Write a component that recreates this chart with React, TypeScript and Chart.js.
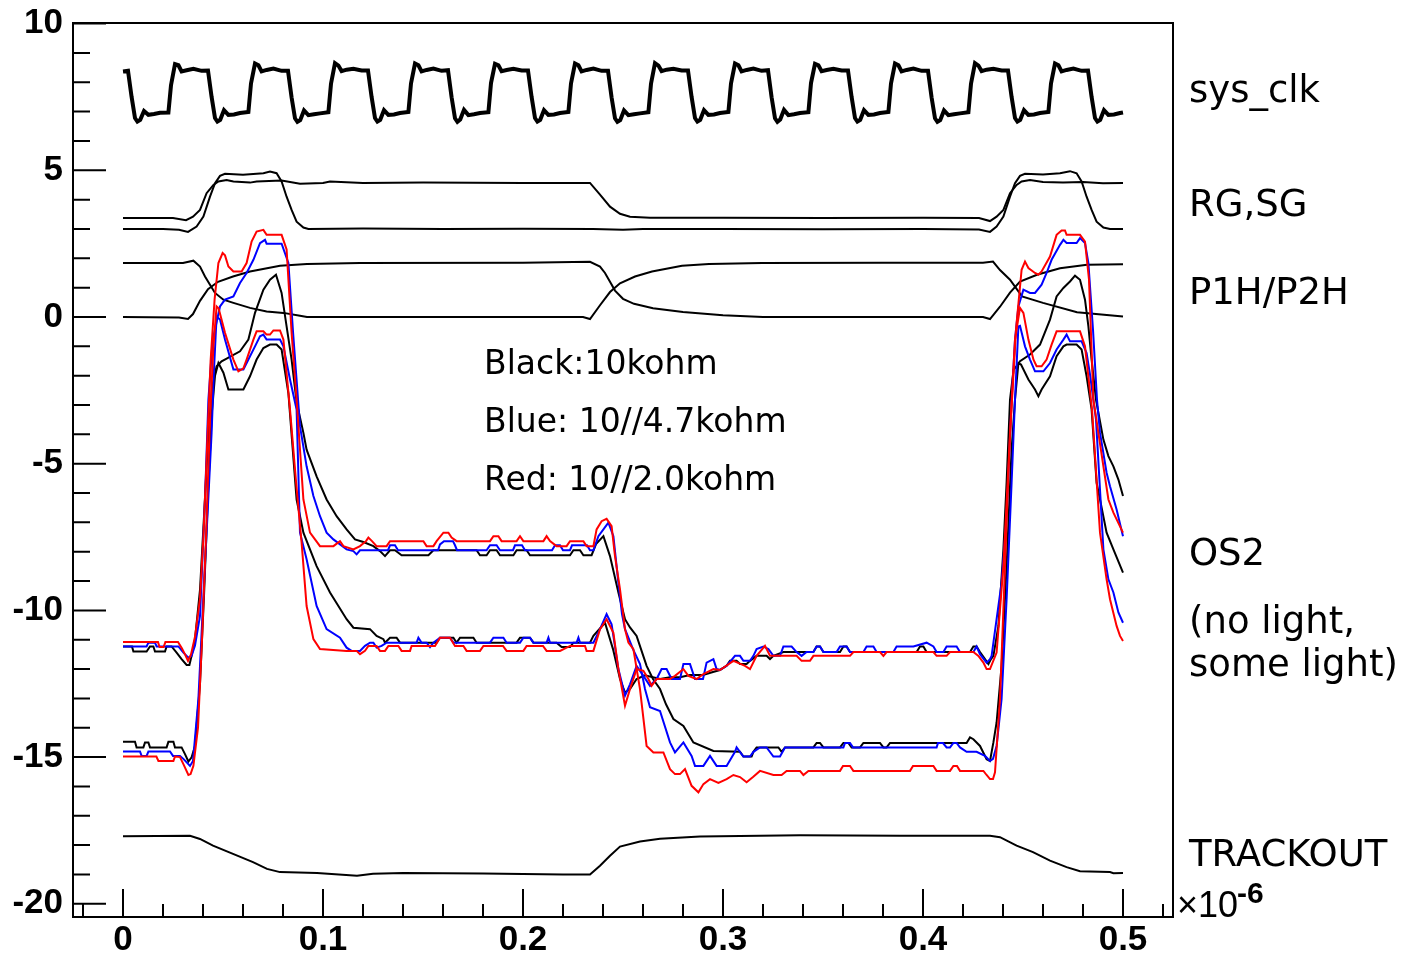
import React, { useEffect, useRef } from "react";
import { Chart, registerables } from "chart.js";

Chart.register(...registerables);

type P = [number, number];

// ---------- axis ticks ----------
const xTickValues = [0, 0.1, 0.2, 0.3, 0.4, 0.5];
const yTickValues = [-20, -15, -10, -5, 0, 5, 10];
const xMinorTicks = [-0.02, 0.02, 0.04, 0.06, 0.08, 0.12, 0.14, 0.16, 0.18, 0.22, 0.24, 0.26, 0.28, 0.32, 0.34, 0.36, 0.38, 0.42, 0.44, 0.46, 0.48, 0.52];
const yMinorTicks = [-19, -18, -17, -16, -14, -13, -12, -11, -9, -8, -7, -6, -4, -3, -2, -1, 1, 2, 3, 4, 6, 7, 8, 9];

// ---------- labels ----------
const signalLabels = ["sys_clk", "RG,SG", "P1H/P2H", "OS2", "(no light,", "some light)", "TRACKOUT"];
const noteLabels = ["Black:10kohm", "Blue: 10//4.7kohm", "Red: 10//2.0kohm"];

// ---------- series (time in 1e-6 s, volts) ----------
const sysClk: P[] = [
  [0, 8.37], [0.0025, 8.39], [0.0043, 7.5], [0.006, 6.78], [0.0072, 6.66], [0.0086, 6.72], [0.0105, 7.02], [0.0127, 6.89], [0.0155, 6.92], [0.0185, 6.96], [0.0227, 6.97], [0.024, 7.9], [0.026, 8.62], [0.0277, 8.58], [0.0293, 8.37], [0.0318, 8.41], [0.0352, 8.46], [0.0393, 8.39],
  [0.0425, 8.40], [0.0443, 7.50], [0.0460, 6.78], [0.0472, 6.66], [0.0486, 6.72], [0.0505, 7.05], [0.0527, 6.89], [0.0555, 6.90], [0.0585, 6.95], [0.0627, 6.99], [0.0640, 7.96], [0.0660, 8.64], [0.0677, 8.58], [0.0693, 8.37], [0.0718, 8.42], [0.0752, 8.47], [0.0793, 8.39],
  [0.0825, 8.39], [0.0843, 7.48], [0.0860, 6.77], [0.0872, 6.65], [0.0886, 6.71], [0.0905, 7.04], [0.0927, 6.88], [0.0955, 6.91], [0.0985, 6.94], [0.1027, 6.98], [0.1040, 7.95], [0.1060, 8.65], [0.1077, 8.57], [0.1093, 8.38], [0.1118, 8.43], [0.1152, 8.46], [0.1193, 8.40],
  [0.1225, 8.40], [0.1243, 7.50], [0.1260, 6.78], [0.1272, 6.66], [0.1286, 6.72], [0.1305, 7.05], [0.1327, 6.89], [0.1355, 6.90], [0.1385, 6.95], [0.1427, 6.99], [0.1440, 7.96], [0.1460, 8.64], [0.1477, 8.58], [0.1493, 8.37], [0.1518, 8.42], [0.1552, 8.47], [0.1593, 8.39],
  [0.1625, 8.41], [0.1643, 7.49], [0.1660, 6.77], [0.1672, 6.65], [0.1686, 6.73], [0.1705, 7.06], [0.1727, 6.88], [0.1755, 6.91], [0.1785, 6.95], [0.1827, 6.98], [0.1840, 7.97], [0.1860, 8.63], [0.1877, 8.58], [0.1893, 8.38], [0.1918, 8.42], [0.1952, 8.46], [0.1993, 8.40],
  [0.2025, 8.40], [0.2043, 7.50], [0.2060, 6.78], [0.2072, 6.66], [0.2086, 6.72], [0.2105, 7.05], [0.2127, 6.89], [0.2155, 6.90], [0.2185, 6.95], [0.2227, 6.99], [0.2240, 7.96], [0.2260, 8.64], [0.2277, 8.58], [0.2293, 8.37], [0.2318, 8.42], [0.2352, 8.47], [0.2393, 8.39],
  [0.2425, 8.39], [0.2443, 7.48], [0.2460, 6.77], [0.2472, 6.65], [0.2486, 6.71], [0.2505, 7.04], [0.2527, 6.88], [0.2555, 6.91], [0.2585, 6.94], [0.2627, 6.98], [0.2640, 7.95], [0.2660, 8.65], [0.2677, 8.57], [0.2693, 8.38], [0.2718, 8.43], [0.2752, 8.46], [0.2793, 8.40],
  [0.2825, 8.40], [0.2843, 7.50], [0.2860, 6.78], [0.2872, 6.66], [0.2886, 6.72], [0.2905, 7.05], [0.2927, 6.89], [0.2955, 6.90], [0.2985, 6.95], [0.3027, 6.99], [0.3040, 7.96], [0.3060, 8.64], [0.3077, 8.58], [0.3093, 8.37], [0.3118, 8.42], [0.3152, 8.47], [0.3193, 8.39],
  [0.3225, 8.41], [0.3243, 7.49], [0.3260, 6.77], [0.3272, 6.65], [0.3286, 6.73], [0.3305, 7.06], [0.3327, 6.88], [0.3355, 6.91], [0.3385, 6.95], [0.3427, 6.98], [0.3440, 7.97], [0.3460, 8.63], [0.3477, 8.58], [0.3493, 8.38], [0.3518, 8.42], [0.3552, 8.46], [0.3593, 8.40],
  [0.3625, 8.40], [0.3643, 7.50], [0.3660, 6.78], [0.3672, 6.66], [0.3686, 6.72], [0.3705, 7.05], [0.3727, 6.89], [0.3755, 6.90], [0.3785, 6.95], [0.3827, 6.99], [0.3840, 7.96], [0.3860, 8.64], [0.3877, 8.58], [0.3893, 8.37], [0.3918, 8.42], [0.3952, 8.47], [0.3993, 8.39],
  [0.4025, 8.39], [0.4043, 7.48], [0.4060, 6.77], [0.4072, 6.65], [0.4086, 6.71], [0.4105, 7.04], [0.4127, 6.88], [0.4155, 6.91], [0.4185, 6.94], [0.4227, 6.98], [0.4240, 7.95], [0.4260, 8.65], [0.4277, 8.57], [0.4293, 8.38], [0.4318, 8.43], [0.4352, 8.46], [0.4393, 8.40],
  [0.4425, 8.40], [0.4443, 7.50], [0.4460, 6.78], [0.4472, 6.66], [0.4486, 6.72], [0.4505, 7.05], [0.4527, 6.89], [0.4555, 6.90], [0.4585, 6.95], [0.4627, 6.99], [0.4640, 7.96], [0.4660, 8.64], [0.4677, 8.58], [0.4693, 8.37], [0.4718, 8.42], [0.4752, 8.47], [0.4793, 8.39],
  [0.4825, 8.40], [0.4843, 7.50], [0.4860, 6.78], [0.4872, 6.66], [0.4886, 6.72], [0.4905, 7.05], [0.4927, 6.89], [0.4955, 6.90], [0.4985, 6.95], [0.5, 6.97],
];

const rg: P[] = [
  [0, 3.0], [0.02, 3.0], [0.028, 2.97], [0.0325, 2.9], [0.0368, 3.08], [0.0402, 3.42], [0.0435, 4.1], [0.046, 4.56], [0.0485, 4.81], [0.051, 4.88], [0.06, 4.85], [0.0702, 4.9], [0.0735, 4.96], [0.0768, 4.9], [0.0793, 4.62], [0.0818, 4.1], [0.0843, 3.65], [0.0868, 3.25], [0.0902, 3.05], [0.0927, 3.0],
  [0.12, 3.02], [0.16, 3.0], [0.2, 3.01], [0.235, 3.0], [0.25, 2.97], [0.26, 3.0], [0.3, 3.0], [0.35, 2.99], [0.4, 3.0], [0.428, 2.98],
  [0.4335, 2.9], [0.4368, 3.08], [0.4402, 3.42], [0.4435, 4.1], [0.446, 4.56], [0.4485, 4.81], [0.451, 4.88], [0.46, 4.86], [0.4685, 4.9], [0.4735, 4.97], [0.4768, 4.9], [0.4793, 4.62], [0.4818, 4.1], [0.4843, 3.65], [0.4868, 3.25], [0.4902, 3.05], [0.4935, 3.0], [0.5, 3.0],
];

const sg: P[] = [
  [0, 3.37], [0.025, 3.37], [0.0315, 3.3], [0.035, 3.42], [0.0385, 3.65], [0.0418, 4.22], [0.0452, 4.5], [0.0477, 4.62], [0.0518, 4.67], [0.0552, 4.62], [0.0635, 4.58], [0.0668, 4.62], [0.0793, 4.65], [0.0885, 4.54], [0.1, 4.57], [0.1035, 4.62], [0.12, 4.57], [0.15, 4.58], [0.2, 4.57],
  [0.2335, 4.57], [0.2385, 4.17], [0.2435, 3.76], [0.2485, 3.52], [0.2535, 3.42], [0.2635, 3.38], [0.3, 3.38], [0.35, 3.37], [0.4, 3.38], [0.428, 3.37],
  [0.4335, 3.27], [0.4368, 3.42], [0.4402, 3.65], [0.4435, 4.22], [0.4468, 4.5], [0.4493, 4.62], [0.4535, 4.67], [0.46, 4.6], [0.47, 4.58], [0.48, 4.6], [0.49, 4.56], [0.5, 4.57],
];

const p1h: P[] = [
  [0, 1.84], [0.03, 1.84], [0.0352, 1.92], [0.0385, 1.72], [0.041, 1.38], [0.0435, 1.1], [0.046, 0.82], [0.0502, 0.59], [0.0552, 0.48], [0.0635, 0.31], [0.0718, 0.19], [0.0802, 0.14], [0.0885, 0.04], [0.092, 0.0], [0.15, 0.0], [0.2, 0.0], [0.23, 0.0],
  [0.2335, -0.07], [0.2385, 0.4], [0.2435, 0.85], [0.2485, 1.15], [0.256, 1.38], [0.2645, 1.55], [0.2795, 1.75], [0.293, 1.81], [0.3195, 1.84], [0.38, 1.85], [0.43, 1.85],
  [0.435, 1.89], [0.4385, 1.6], [0.4435, 1.27], [0.4495, 0.7], [0.46, 0.48], [0.477, 0.16], [0.5, 0.02],
];

const p2h: P[] = [
  [0, 0.0], [0.028, -0.02], [0.0325, -0.07], [0.035, 0.1], [0.0385, 0.55], [0.0425, 0.95], [0.0475, 1.2], [0.055, 1.38], [0.0635, 1.55], [0.0785, 1.75], [0.092, 1.81], [0.1185, 1.84], [0.2, 1.85],
  [0.2335, 1.88], [0.2385, 1.72], [0.241, 1.5], [0.2435, 1.2], [0.246, 0.9], [0.25, 0.62], [0.2555, 0.45], [0.265, 0.3], [0.28, 0.17], [0.3, 0.06], [0.32, 0.0], [0.43, 0.0],
  [0.4335, -0.07], [0.4385, 0.35], [0.4435, 0.83], [0.4485, 1.21], [0.457, 1.44], [0.4685, 1.66], [0.482, 1.78], [0.5, 1.8],
];

const trackout: P[] = [
  [0, -17.7], [0.0335, -17.68], [0.0385, -17.79], [0.045, -18.02], [0.055, -18.3], [0.065, -18.58], [0.072, -18.81], [0.0785, -18.92], [0.097, -18.95], [0.117, -19.04], [0.125, -18.98], [0.14, -18.95], [0.18, -18.97], [0.22, -19.0],
  [0.2335, -19.0], [0.2385, -18.7], [0.2435, -18.36], [0.2485, -18.05], [0.2585, -17.88], [0.2685, -17.78], [0.2885, -17.71], [0.3385, -17.66], [0.3885, -17.68], [0.4335, -17.68],
  [0.4385, -17.73], [0.4468, -18.02], [0.455, -18.24], [0.4635, -18.53], [0.4718, -18.75], [0.4785, -18.89], [0.4935, -18.92], [0.4952, -18.96], [0.5, -18.95],
];

// OS2, red (10//2.0k): starts at the upper level
const os2RedA: P[] = [
  [0, -11.08], [0.0175, -11.08], [0.0183, -11.25], [0.0203, -11.25], [0.0212, -11.08], [0.0275, -11.08], [0.0295, -11.3], [0.031, -11.5], [0.0325, -11.72], [0.034, -11.5], [0.036, -10.9], [0.0385, -9.6], [0.0402, -7.5], [0.042, -4.5], [0.0438, -1.5], [0.0458, 0.6], [0.0477, 1.84], [0.0498, 2.18], [0.051, 2.1], [0.0527, 1.72], [0.0552, 1.55], [0.0593, 1.55], [0.0618, 1.84], [0.0643, 2.57], [0.0668, 2.91], [0.0702, 2.97], [0.0718, 2.8], [0.0793, 2.8], [0.0818, 2.3], [0.0843, -0.54], [0.0868, -2.82], [0.0902, -6.22], [0.0935, -7.35], [0.0985, -7.81],
  [0.1052, -7.81], [0.1085, -7.64], [0.1102, -7.81], [0.1152, -7.92], [0.1185, -7.81], [0.1215, -7.64], [0.1227, -7.52], [0.1245, -7.64], [0.1268, -7.81], [0.1318, -7.81], [0.1335, -7.64], [0.1502, -7.64], [0.1518, -7.81], [0.1552, -7.81], [0.1568, -7.64], [0.1602, -7.35], [0.1627, -7.35], [0.1643, -7.52], [0.1668, -7.64], [0.1835, -7.64], [0.1852, -7.47], [0.1877, -7.47], [0.1893, -7.64], [0.1968, -7.64], [0.1985, -7.47], [0.2002, -7.64], [0.2102, -7.64], [0.2118, -7.47], [0.2135, -7.64], [0.2168, -7.81], [0.2218, -7.81], [0.2235, -7.64], [0.2302, -7.64], [0.2318, -7.81], [0.2352, -7.81],
  [0.2368, -7.24], [0.2393, -6.96], [0.2418, -6.88], [0.2443, -7.13], [0.246, -8.15], [0.2485, -9.28], [0.251, -10.64], [0.2527, -11.1], [0.2552, -11.32], [0.2585, -12.68], [0.2618, -14.62], [0.2652, -14.84], [0.2702, -14.84], [0.2735, -15.41], [0.276, -15.58], [0.2785, -15.58], [0.281, -15.41], [0.2843, -15.98], [0.2877, -16.2], [0.2902, -15.92], [0.2935, -15.75], [0.2977, -15.88], [0.3018, -15.75], [0.3052, -15.61], [0.3085, -15.68], [0.3118, -15.86], [0.315, -15.68], [0.3185, -15.47], [0.3252, -15.61], [0.3293, -15.61], [0.3318, -15.47], [0.3385, -15.47], [0.3402, -15.61], [0.3427, -15.47], [0.3585, -15.47], [0.36, -15.3], [0.3635, -15.3], [0.3652, -15.47], [0.3935, -15.47], [0.395, -15.3], [0.4052, -15.3], [0.4068, -15.47], [0.4135, -15.47], [0.4152, -15.3], [0.417, -15.3], [0.4185, -15.47], [0.4302, -15.47], [0.4318, -15.61], [0.4335, -15.75], [0.435, -15.75],
  [0.436, -15.52], [0.4385, -13.02], [0.441, -8.49], [0.4435, -3.95], [0.446, -0.77], [0.4485, 0.31], [0.4502, 0.14], [0.4527, -0.77], [0.4552, -1.45], [0.4568, -1.68], [0.4593, -1.68], [0.4618, -1.45], [0.4643, -0.94], [0.4668, -0.49], [0.4785, -0.49], [0.481, -1.0], [0.4845, -3.15], [0.4885, -7.35], [0.4918, -8.94], [0.4935, -9.62], [0.4968, -10.53], [0.4985, -10.87], [0.5, -11.04],
];

// OS2, red: starts at the lower level
const os2RedB: P[] = [
  [0, -14.98], [0.0167, -14.98], [0.0177, -15.13], [0.0252, -15.13], [0.026, -14.98], [0.0285, -15.0], [0.0302, -15.24], [0.0327, -15.61], [0.0338, -15.58], [0.0352, -15.3], [0.0375, -14.0], [0.0395, -11.0], [0.0415, -7.5], [0.0435, -3.5], [0.0452, -1.0], [0.0468, 0.36], [0.0478, 0.3], [0.051, -0.54], [0.0552, -1.45], [0.0577, -1.85], [0.0602, -1.75], [0.0618, -1.45], [0.0652, -0.77], [0.0668, -0.49], [0.0702, -0.49], [0.0718, -0.6], [0.0735, -0.6], [0.0752, -0.46], [0.0785, -0.46], [0.0802, -0.77], [0.0835, -3.15], [0.0865, -5.6], [0.0893, -7.69], [0.0918, -9.85], [0.0952, -10.98], [0.0985, -11.32],
  [0.1118, -11.38], [0.1168, -11.38], [0.1185, -11.49], [0.121, -11.38], [0.1227, -11.21], [0.1268, -11.21], [0.1285, -11.38], [0.131, -11.38], [0.1327, -11.21], [0.1377, -11.21], [0.1393, -11.38], [0.1435, -11.38], [0.1443, -11.21], [0.156, -11.21], [0.1585, -10.93], [0.1635, -10.93], [0.166, -11.21], [0.1702, -11.21], [0.1718, -11.38], [0.1785, -11.38], [0.1802, -11.21], [0.19, -11.21], [0.1918, -11.38], [0.2002, -11.38], [0.2018, -11.21], [0.21, -11.21], [0.2118, -11.38], [0.2185, -11.38], [0.2235, -11.21], [0.231, -11.21], [0.2318, -11.38], [0.2352, -11.38],
  [0.2385, -10.64], [0.2418, -10.3], [0.2452, -10.76], [0.2477, -12.0], [0.251, -13.25], [0.2535, -12.68], [0.2568, -12.0], [0.2602, -12.06], [0.2627, -12.34], [0.2643, -12.57], [0.2668, -12.34], [0.2735, -12.34], [0.276, -12.23], [0.2802, -12.0], [0.2827, -12.23], [0.2868, -12.34], [0.2902, -12.17], [0.2952, -12.0], [0.2985, -12.03], [0.3052, -11.72], [0.311, -11.89], [0.3135, -12.0], [0.3168, -11.55], [0.321, -11.21], [0.3235, -11.55], [0.3368, -11.55], [0.3393, -11.72], [0.3435, -11.72], [0.3452, -11.55], [0.3635, -11.55], [0.3652, -11.42], [0.3785, -11.42], [0.3802, -11.55], [0.3818, -11.42], [0.4052, -11.42], [0.4068, -11.55], [0.4118, -11.55], [0.4135, -11.42], [0.4252, -11.42], [0.4277, -11.55], [0.4302, -11.78], [0.4318, -12.0], [0.4335, -12.0],
  [0.4368, -11.44], [0.4402, -8.49], [0.4427, -5.09], [0.4445, -2.82], [0.4465, -0.43], [0.4493, 1.61], [0.451, 1.89], [0.4527, 1.67], [0.456, 1.5], [0.4577, 1.44], [0.4593, 1.55], [0.4635, 2.06], [0.4668, 2.8], [0.4693, 2.95], [0.471, 2.95], [0.4718, 2.8], [0.4785, 2.8], [0.481, 2.57], [0.483, 1.27], [0.4852, -2.82], [0.4902, -5.09], [0.4927, -6.22], [0.4952, -6.67], [0.5, -7.35],
];

// OS2, blue (10//4.7k): starts at the upper level
const os2BlueA: P[] = [
  [0, -11.23], [0.0118, -11.23], [0.0127, -11.1], [0.016, -11.1], [0.0168, -11.23], [0.0277, -11.23], [0.0302, -11.44], [0.0327, -11.61], [0.0343, -11.55], [0.036, -11.2], [0.0385, -10.19], [0.041, -6.22], [0.0427, -2.82], [0.0448, -0.8], [0.0485, 0.36], [0.051, 0.59], [0.0552, 0.7], [0.0585, 1.16], [0.0618, 1.5], [0.0652, 1.95], [0.0685, 2.52], [0.071, 2.63], [0.0718, 2.5], [0.0793, 2.5], [0.0827, 1.84], [0.085, -0.5], [0.0875, -2.8], [0.0885, -3.72], [0.0918, -5.09], [0.0952, -6.1], [0.0985, -6.79], [0.1018, -7.35], [0.1052, -7.58],
  [0.1118, -7.92], [0.1152, -7.98], [0.1168, -8.09], [0.1185, -7.95], [0.1325, -7.95], [0.1335, -7.78], [0.136, -7.78], [0.1375, -7.95], [0.1575, -7.95], [0.1585, -7.75], [0.1605, -7.64], [0.165, -7.64], [0.166, -7.78], [0.167, -7.95], [0.1818, -7.95], [0.1835, -7.78], [0.1868, -7.78], [0.1885, -7.95], [0.195, -7.95], [0.196, -7.78], [0.1995, -7.78], [0.201, -7.95], [0.2145, -7.95], [0.216, -7.78], [0.2185, -7.78], [0.22, -7.95], [0.2235, -7.95], [0.2245, -7.78], [0.232, -7.78], [0.2335, -7.95], [0.2352, -7.95],
  [0.2377, -7.47], [0.2427, -7.01], [0.2452, -7.47], [0.2475, -8.94], [0.2495, -10.13], [0.251, -10.64], [0.255, -11.32], [0.2585, -11.83], [0.261, -12.68], [0.2635, -13.3], [0.2685, -13.43], [0.2735, -14.5], [0.276, -14.84], [0.2802, -14.5], [0.2843, -14.96], [0.286, -15.3], [0.2902, -15.3], [0.2935, -14.96], [0.2968, -15.3], [0.3018, -15.3], [0.306, -14.82], [0.3068, -14.67], [0.3102, -14.98], [0.3135, -14.98], [0.3152, -14.82], [0.3185, -14.67], [0.3218, -14.67], [0.3252, -14.98], [0.3285, -14.98], [0.331, -14.67], [0.3602, -14.67], [0.361, -14.52], [0.3635, -14.52], [0.365, -14.67], [0.4068, -14.67], [0.4075, -14.52], [0.41, -14.52], [0.4118, -14.67], [0.4135, -14.67], [0.4152, -14.52], [0.4168, -14.52], [0.4185, -14.67], [0.4218, -14.82], [0.4268, -14.82], [0.431, -14.96], [0.4335, -15.13], [0.435, -15.06],
  [0.4368, -14.62], [0.4393, -13.02], [0.4418, -9.62], [0.4443, -5.65], [0.446, -2.82], [0.4477, -0.32], [0.4485, -0.3], [0.451, -1.0], [0.4535, -1.45], [0.456, -1.85], [0.4602, -1.85], [0.4635, -1.57], [0.4668, -1.11], [0.4702, -0.77], [0.4718, -0.6], [0.4735, -0.83], [0.4793, -0.83], [0.4818, -1.23], [0.4835, -1.96], [0.4865, -3.5], [0.4902, -7.92], [0.4927, -8.94], [0.4952, -9.39], [0.4977, -10.07], [0.5, -10.42],
];

// OS2, blue: starts at the lower level
const os2BlueB: P[] = [
  [0, -14.81], [0.0085, -14.81], [0.0093, -14.96], [0.0118, -14.96], [0.0127, -14.81], [0.0235, -14.81], [0.025, -14.96], [0.0285, -14.96], [0.0302, -15.06], [0.0335, -15.3], [0.035, -15.13], [0.0377, -13.02], [0.0393, -10.76], [0.0418, -7.35], [0.0443, -3.95], [0.0455, -1.79], [0.0468, 0.02], [0.0485, -0.09], [0.051, -0.77], [0.0552, -1.79], [0.0602, -1.79], [0.0627, -1.45], [0.066, -1.0], [0.0685, -0.66], [0.0702, -0.6], [0.0718, -0.77], [0.0785, -0.77], [0.0802, -1.0], [0.0835, -2.13], [0.0868, -3.15], [0.0885, -7.35], [0.0918, -8.26], [0.0968, -9.85], [0.1018, -10.64], [0.1085, -10.93],
  [0.1118, -11.27], [0.1143, -11.38], [0.1185, -11.38], [0.121, -11.21], [0.1235, -11.1], [0.1252, -11.1], [0.1268, -11.27], [0.1293, -11.21], [0.1318, -11.1], [0.1468, -11.1], [0.1477, -10.93], [0.1493, -11.1], [0.1518, -11.1], [0.1535, -11.25], [0.1552, -11.1], [0.1585, -10.93], [0.1635, -10.93], [0.1652, -11.1], [0.1835, -11.1], [0.1852, -10.93], [0.1902, -10.93], [0.1918, -11.1], [0.1985, -11.1], [0.2002, -10.93], [0.2035, -10.93], [0.2052, -11.1], [0.2118, -11.1], [0.2127, -10.93], [0.2135, -11.1], [0.2268, -11.1], [0.2277, -10.93], [0.2285, -11.1], [0.2352, -11.1],
  [0.2385, -10.64], [0.2418, -10.13], [0.2443, -10.47], [0.2477, -12.0], [0.251, -12.91], [0.2535, -12.52], [0.2568, -11.89], [0.2602, -12.23], [0.2635, -12.57], [0.2668, -12.34], [0.2693, -12.0], [0.2718, -12.0], [0.2743, -12.34], [0.2785, -12.34], [0.2802, -11.83], [0.2835, -11.83], [0.286, -12.34], [0.29, -12.34], [0.2918, -11.78], [0.2952, -11.66], [0.2968, -12.0], [0.2985, -12.03], [0.3018, -11.89], [0.306, -11.55], [0.3085, -11.55], [0.3102, -11.72], [0.3135, -11.72], [0.3152, -11.55], [0.3168, -11.32], [0.3202, -11.23], [0.3227, -11.32], [0.3252, -11.55], [0.3285, -11.55], [0.3302, -11.23], [0.3343, -11.23], [0.3368, -11.42], [0.3393, -11.55], [0.3418, -11.42], [0.3452, -11.42], [0.3468, -11.23], [0.3485, -11.23], [0.3502, -11.42], [0.3568, -11.42], [0.3585, -11.23], [0.3618, -11.23], [0.3635, -11.42], [0.3702, -11.42], [0.3718, -11.23], [0.3752, -11.23], [0.3768, -11.42], [0.3852, -11.42], [0.3868, -11.23], [0.3952, -11.23], [0.4018, -11.1], [0.4052, -11.23], [0.4068, -11.42], [0.4102, -11.42], [0.4118, -11.23], [0.4168, -11.23], [0.4185, -11.42], [0.4252, -11.42], [0.4268, -11.23], [0.4285, -11.49], [0.4318, -11.78], [0.4335, -11.66], [0.4343, -11.55],
  [0.4368, -10.3], [0.4393, -9.05], [0.4418, -6.79], [0.4443, -2.82], [0.446, -0.77], [0.4477, 0.36], [0.4502, 0.93], [0.4535, 0.82], [0.456, 0.82], [0.4593, 1.1], [0.4618, 1.5], [0.4643, 1.95], [0.4685, 2.46], [0.4702, 2.63], [0.4718, 2.52], [0.4768, 2.52], [0.4785, 2.69], [0.481, 2.52], [0.4827, 1.84], [0.485, -0.43], [0.487, -2.82], [0.4885, -3.95], [0.4918, -5.31], [0.4935, -5.77], [0.4968, -6.56], [0.5, -7.47],
];

// OS2, black (10k): starts at the upper level
const os2BlackA: P[] = [
  [0, -11.23], [0.0045, -11.23], [0.0052, -11.4], [0.0118, -11.4], [0.0135, -11.23], [0.0152, -11.23], [0.016, -11.4], [0.021, -11.4], [0.0218, -11.23], [0.0243, -11.23], [0.0268, -11.44], [0.0293, -11.66], [0.0318, -11.86], [0.0332, -11.86], [0.0343, -11.55], [0.036, -10.98], [0.0385, -9.3], [0.0405, -6.8], [0.0425, -4.2], [0.0445, -2.4], [0.0468, -1.68], [0.0493, -1.51], [0.0518, -1.42], [0.0585, -1.17], [0.0627, -0.77], [0.066, 0.14], [0.0702, 0.93], [0.0735, 1.27], [0.0765, 1.44], [0.0793, 0.82], [0.0818, -0.32], [0.0843, -1.45], [0.0868, -2.9], [0.0902, -3.95], [0.0918, -4.52], [0.0968, -5.43], [0.1018, -6.22], [0.1068, -6.79], [0.1118, -7.24], [0.116, -7.58], [0.1202, -7.67],
  [0.1252, -7.81], [0.1285, -7.98], [0.131, -8.15], [0.1335, -7.95], [0.136, -7.95], [0.1393, -8.12], [0.1527, -8.12], [0.1552, -7.95], [0.1768, -7.95], [0.1785, -8.12], [0.1818, -8.12], [0.1835, -7.95], [0.1868, -7.95], [0.1885, -8.12], [0.1952, -8.12], [0.1968, -7.95], [0.2018, -7.95], [0.2035, -8.12], [0.2235, -8.12], [0.2252, -7.95], [0.2285, -7.95], [0.2302, -8.12], [0.2343, -8.12],
  [0.2365, -7.74], [0.2402, -7.47], [0.2435, -8.15], [0.2477, -9.39], [0.251, -10.3], [0.2535, -10.58], [0.2568, -10.87], [0.259, -11.32], [0.2618, -11.89], [0.265, -12.34], [0.2685, -12.68], [0.2715, -13.2], [0.2752, -13.7], [0.2802, -13.94], [0.2852, -14.5], [0.2952, -14.79], [0.3085, -14.82], [0.3102, -14.98], [0.3143, -14.98], [0.3152, -14.82], [0.3168, -14.67], [0.3277, -14.67], [0.3293, -14.82], [0.331, -14.67], [0.3452, -14.67], [0.3468, -14.52], [0.3485, -14.52], [0.3502, -14.67], [0.3585, -14.67], [0.3602, -14.52], [0.3627, -14.52], [0.3643, -14.67], [0.3685, -14.67], [0.3702, -14.52], [0.3785, -14.52], [0.3802, -14.67], [0.3818, -14.67], [0.3835, -14.52], [0.4218, -14.52], [0.4235, -14.33], [0.4252, -14.39], [0.4285, -14.62], [0.4318, -15.07], [0.4335, -15.13],
  [0.4352, -14.5], [0.4368, -13.82], [0.4393, -11.89], [0.4418, -8.49], [0.4443, -4.52], [0.446, -2.82], [0.4477, -1.57], [0.449, -1.62], [0.4527, -2.13], [0.456, -2.47], [0.4577, -2.7], [0.4593, -2.47], [0.4635, -2.02], [0.4668, -1.34], [0.4702, -1.0], [0.4718, -0.94], [0.4768, -0.94], [0.4793, -1.11], [0.4818, -2.02], [0.4843, -3.15], [0.4868, -5.65], [0.4885, -6.22], [0.4918, -7.35], [0.4952, -7.92], [0.5, -8.71],
];

// OS2, black: starts at the lower level
const os2BlackB: P[] = [
  [0, -14.48], [0.006, -14.48], [0.0068, -14.67], [0.0102, -14.67], [0.011, -14.5], [0.0127, -14.5], [0.0135, -14.67], [0.0218, -14.67], [0.0227, -14.48], [0.0252, -14.48], [0.026, -14.67], [0.0293, -14.67], [0.031, -14.9], [0.0327, -15.15], [0.0343, -15.01], [0.036, -14.62], [0.0385, -12.5], [0.0405, -9.5], [0.0425, -6.0], [0.0445, -3.2], [0.046, -2.0], [0.0477, -1.57], [0.0502, -1.9], [0.0527, -2.47], [0.0602, -2.47], [0.0635, -2.02], [0.0668, -1.45], [0.0702, -1.06], [0.0735, -0.94], [0.0768, -0.94], [0.0793, -1.11], [0.0827, -2.6], [0.0868, -6.22], [0.0902, -7.35], [0.0968, -8.49], [0.1035, -9.39], [0.1118, -10.3], [0.1152, -10.59], [0.1235, -10.64], [0.1268, -10.87], [0.1302, -10.98],
  [0.131, -11.1], [0.1335, -10.93], [0.1368, -10.93], [0.1385, -11.1], [0.1568, -11.1], [0.1585, -10.93], [0.1652, -10.93], [0.1668, -11.1], [0.1685, -10.93], [0.1752, -10.93], [0.1768, -11.1], [0.1968, -11.1], [0.1985, -10.93], [0.2035, -10.93], [0.2052, -11.1], [0.2168, -11.1], [0.2193, -11.25], [0.2235, -11.25], [0.2252, -11.1], [0.2335, -11.1],
  [0.2352, -10.87], [0.241, -10.42], [0.245, -11.32], [0.2485, -12.34], [0.251, -12.8], [0.2535, -12.68], [0.2568, -12.34], [0.261, -12.21], [0.2685, -12.34], [0.2735, -12.28], [0.2785, -12.28], [0.2835, -12.2], [0.29, -12.2], [0.295, -12.1], [0.2985, -12.03], [0.3018, -11.89], [0.3035, -11.72], [0.3068, -11.72], [0.3085, -11.83], [0.3118, -11.83], [0.3135, -11.72], [0.3168, -11.55], [0.3218, -11.55], [0.3235, -11.66], [0.3252, -11.55], [0.3302, -11.42], [0.3452, -11.42], [0.3468, -11.23], [0.3485, -11.23], [0.3502, -11.42], [0.3585, -11.42], [0.3602, -11.23], [0.3618, -11.23], [0.3635, -11.42], [0.3968, -11.42], [0.3985, -11.23], [0.4002, -11.23], [0.4018, -11.42], [0.4235, -11.42], [0.4252, -11.23], [0.4268, -11.23], [0.4285, -11.42], [0.431, -11.66], [0.4327, -11.83], [0.434, -11.66], [0.4352, -11.55],
  [0.4377, -10.53], [0.4402, -7.92], [0.4418, -5.65], [0.4435, -2.82], [0.4453, -1.79], [0.4468, -1.68], [0.4485, -1.51], [0.4535, -1.28], [0.4585, -0.94], [0.4635, -0.09], [0.4668, 0.7], [0.4702, 0.99], [0.4735, 1.21], [0.476, 1.41], [0.4785, 1.27], [0.481, 0.59], [0.4827, -0.32], [0.4843, -1.45], [0.4865, -2.82], [0.4902, -4.18], [0.4927, -4.74], [0.4952, -5.09], [0.4977, -5.54], [0.5, -6.1],
];

const toXY = (arr: P[]) => arr.map(([x, y]) => ({ x, y }));

const TICK_FONT = "'Liberation Sans', Arial, Helvetica, sans-serif";
const LABEL_FONT = "'DejaVu Sans', Verdana, sans-serif";

const decorPlugin = {
  id: "decor",
  afterDatasetsDraw(chart: any) {
    const { ctx, chartArea } = chart;
    const { left, top, right, bottom } = chartArea;
    const xs = chart.scales.x;
    const ys = chart.scales.y;
    ctx.save();
    ctx.strokeStyle = "#000";
    ctx.lineWidth = 2;
    ctx.strokeRect(left, top, right - left, bottom - top);
    ctx.beginPath();
    for (const v of yMinorTicks) {
      const py = ys.getPixelForValue(v);
      ctx.moveTo(left, py);
      ctx.lineTo(left + 17, py);
    }
    for (const v of yTickValues) {
      const py = ys.getPixelForValue(v);
      ctx.moveTo(left, py);
      ctx.lineTo(left + 33, py);
    }
    for (const v of xMinorTicks) {
      const px = xs.getPixelForValue(v);
      ctx.moveTo(px, bottom);
      ctx.lineTo(px, bottom - 13);
    }
    for (const v of xTickValues) {
      const px = xs.getPixelForValue(v);
      ctx.moveTo(px, bottom);
      ctx.lineTo(px, bottom - 28);
    }
    ctx.stroke();

    ctx.fillStyle = "#000";
    ctx.textAlign = "left";
    ctx.textBaseline = "alphabetic";
    // signal names on the right
    ctx.font = `37px ${LABEL_FONT}`;
    const lx = right + 16;
    const baselines = [101.5, 215.5, 304, 565, 633, 676, 865.5];
    signalLabels.forEach((t, i) => ctx.fillText(t, lx, baselines[i]));
    // notes inside the frame
    ctx.font = `33px ${LABEL_FONT}`;
    const nb = [373.5, 431.5, 489.5];
    noteLabels.forEach((t, i) => ctx.fillText(t, 484, nb[i]));
    // exponent of the x axis
    ctx.font = `36px ${TICK_FONT}`;
    const base = "\u00d710";
    ctx.fillText(base, right + 4, 917);
    const w = ctx.measureText(base).width;
    ctx.font = `bold 30px ${TICK_FONT}`;
    ctx.fillText("-6", right + 3 + w, 903);
    ctx.restore();
  },
};

export default function App() {
  const ref = useRef<HTMLCanvasElement | null>(null);
  useEffect(() => {
    if (!ref.current) return;
    const mk = (data: P[], color: string, width = 2) => ({
      data: toXY(data),
      borderColor: color,
      backgroundColor: color,
      borderWidth: width,
      pointRadius: 0,
      tension: 0,
      fill: false,
    });
    const chart = new Chart(ref.current, {
      type: "line",
      data: {
        datasets: [
          mk(os2RedA, "#ff0000"),
          mk(os2RedB, "#ff0000"),
          mk(os2BlueA, "#0000ff"),
          mk(os2BlueB, "#0000ff"),
          mk(os2BlackA, "#000000"),
          mk(os2BlackB, "#000000"),
          mk(sysClk, "#000000", 4),
          mk(rg, "#000000"),
          mk(sg, "#000000"),
          mk(p1h, "#000000"),
          mk(p2h, "#000000"),
          mk(trackout, "#000000"),
        ],
      },
      plugins: [decorPlugin],
      options: {
        animation: false,
        responsive: false,
        devicePixelRatio: 1,
        layout: { padding: { left: 0, top: 23, right: 234, bottom: 0 } },
        plugins: { legend: { display: false }, tooltip: { enabled: false } },
        scales: {
          x: {
            type: "linear",
            min: -0.025,
            max: 0.525,
            grid: { display: false, drawTicks: false },
            border: { display: false },
            afterBuildTicks: (s: any) => {
              s.ticks = xTickValues.map((v) => ({ value: v }));
            },
            afterFit: (s: any) => {
              s.height = 41;
              s.paddingLeft = 0;
              s.paddingRight = 0;
            },
            ticks: {
              autoSkip: false,
              maxRotation: 0,
              padding: 2,
              color: "#000",
              font: { family: TICK_FONT, size: 35, weight: "bold" },
              callback: (v: any) => String(Math.round(Number(v) * 10) / 10),
            },
          },
          y: {
            type: "linear",
            min: -20.45,
            max: 10.02,
            grid: { display: false, drawTicks: false },
            border: { display: false },
            afterBuildTicks: (s: any) => {
              s.ticks = yTickValues.map((v) => ({ value: v }));
            },
            afterFit: (s: any) => {
              s.width = 73;
              s.paddingTop = 0;
              s.paddingBottom = 0;
            },
            ticks: {
              autoSkip: false,
              padding: 10,
              color: "#000",
              font: { family: TICK_FONT, size: 35, weight: "bold" },
              callback: (v: any) => String(v),
            },
          },
        },
      },
    } as any);
    return () => chart.destroy();
  }, []);
  return (
    <div style={{ position: "absolute", left: 0, top: 0, width: 1407, height: 958, background: "#fff" }}>
      <canvas ref={ref} width={1407} height={958} style={{ display: "block" }} />
    </div>
  );
}
